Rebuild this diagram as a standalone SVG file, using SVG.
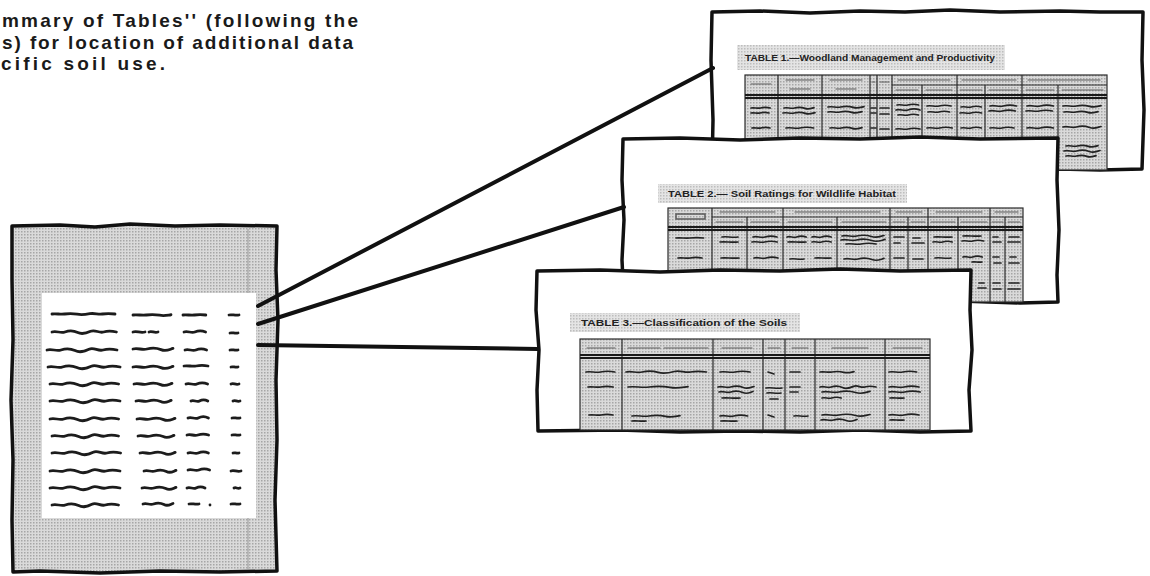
<svg xmlns="http://www.w3.org/2000/svg" xmlns:xlink="http://www.w3.org/1999/xlink" width="1150" height="576" viewBox="0 0 1150 576">
  <style>
    .page { fill: #ffffff; stroke: #111; stroke-width: 3.5; stroke-linejoin: round; }
    .shade { fill: url(#halftone); }
    .band { fill: url(#halftoneLight); }
    .grid { fill: none; stroke: #2a2a2a; stroke-width: 1.2; }
    .rule { fill: none; stroke: #1a1a1a; stroke-width: 2; }
    .lp { stroke: #1c1c1c; stroke-width: 2.8; stroke-linecap: round; }
    .ts { stroke: #222; stroke-width: 1.7; stroke-linecap: round; }
    .th { stroke: #5a5a5a; stroke-width: 1.1; stroke-linecap: round; }
    .title { font-family: "Liberation Sans", Arial, sans-serif; font-weight: bold; font-size: 9.5px; fill: #222; }
    .caption { font-family: "Liberation Sans", Arial, sans-serif; font-weight: bold; font-size: 19px; fill: #1a1a1a; }
    .conn { stroke: #111; stroke-width: 4; stroke-linecap: round; fill: none; }
  </style>
  <defs>
    <pattern id="halftone" width="3" height="3" patternUnits="userSpaceOnUse">
      <rect width="3" height="3" fill="#dadada"/>
      <rect width="1.5" height="1.5" fill="#a6a6a6"/>
    </pattern>
    <pattern id="halftoneLight" width="3" height="3" patternUnits="userSpaceOnUse">
      <rect width="3" height="3" fill="#e4e4e4"/>
      <rect width="1.5" height="1.5" fill="#bdbdbd"/>
    </pattern>
    <!-- flat hand-drawn strokes of a few base lengths, standing in for written entries -->
    <path id="s10" d="M0,0 C3,-0.8 6,0.8 10,0" fill="none" vector-effect="non-scaling-stroke"/>
    <path id="s24" d="M0,0 C4,-1 8,1 12,0 S20,-1 24,0" fill="none" vector-effect="non-scaling-stroke"/>
    <path id="s40" d="M0,0 C5,-1 9,1 14,0 S23,-1 28,0.4 S36,0.4 40,-0.4" fill="none" vector-effect="non-scaling-stroke"/>
    <path id="s70" d="M0,0 C5,-1.2 9,1.2 14,0 S23,-1.2 28,0.4 S37,1 42,-0.5 S51,1 56,0 S65,-0.8 70,0" fill="none" vector-effect="non-scaling-stroke"/>
  </defs>

  <rect width="1150" height="576" fill="#ffffff"/>

  <!-- caption text, cut at the left edge -->
  <g id="caption" class="caption">
    <text x="2" y="27" textLength="356" lengthAdjust="spacing">mmary of Tables'' (following the</text>
    <text x="2" y="49" textLength="351" lengthAdjust="spacing">s) for location of additional data</text>
    <text x="1" y="70" textLength="164" lengthAdjust="spacing">cific soil use.</text>
  </g>

  <!-- soil-use page with its rows of entries -->
  <g id="summary-page">
    <path class="shade" d="M12,226 L60,225 L95,227 L130,224 L175,226 L220,225 L277,226 L276,270 L278,320 L276,380 L277,440 L275,500 L277,571 L220,572 L160,571 L100,573 L40,571 L13,572 L12,520 L13,460 L11,400 L13,340 L12,280 Z"/>
    <rect x="42" y="293" width="214" height="225" fill="#ffffff"/>
    <line x1="248" y1="229" x2="248" y2="293" stroke="#9a9a9a" stroke-width="1"/>
    <line x1="248" y1="518" x2="248" y2="569" stroke="#9a9a9a" stroke-width="1"/>
    <path d="M12,226 L60,225 L95,227 L130,224 L175,226 L220,225 L277,226 L276,270 L278,320 L276,380 L277,440 L275,500 L277,571 L220,572 L160,571 L100,573 L40,571 L13,572 L12,520 L13,460 L11,400 L13,340 L12,280 Z" fill="none" stroke="#111" stroke-width="3.5" stroke-linejoin="round"/>
    <g class="lp">
      <use xlink:href="#s70" transform="translate(52,314) scale(0.9,0.6)"/>
      <use xlink:href="#s40" transform="translate(133,315) scale(0.95,0.6)"/>
      <use xlink:href="#s24" transform="translate(183,315) scale(0.95,0.6)"/>
      <use xlink:href="#s10" transform="translate(229,315)"/>

      <use xlink:href="#s70" transform="translate(52,332) scale(0.92,1.4)"/>
      <use xlink:href="#s10" transform="translate(133,332) scale(1.2,1.4)"/>
      <use xlink:href="#s10" transform="translate(149,332) scale(0.9,1.4)"/>
      <use xlink:href="#s24" transform="translate(184,332) scale(0.9,1.4)"/>
      <use xlink:href="#s10" transform="translate(230,333) scale(0.8,1)"/>

      <use xlink:href="#s70" transform="translate(47,350) scale(1.0,1.5)"/>
      <use xlink:href="#s40" transform="translate(133,349) scale(1.0,1.5)"/>
      <use xlink:href="#s24" transform="translate(185,350) scale(0.9,1.4)"/>
      <use xlink:href="#s10" transform="translate(230,350) scale(0.8,1)"/>

      <use xlink:href="#s70" transform="translate(48,367) scale(1.03,1.5)"/>
      <use xlink:href="#s40" transform="translate(133,367) scale(1.0,1.5)"/>
      <use xlink:href="#s24" transform="translate(184,366) scale(1.0,0.8)"/>
      <use xlink:href="#s10" transform="translate(231,367) scale(0.7,1)"/>

      <use xlink:href="#s70" transform="translate(50,384) scale(0.98,1.5)"/>
      <use xlink:href="#s40" transform="translate(134,384) scale(0.95,1.5)"/>
      <use xlink:href="#s24" transform="translate(186,384) scale(0.9,1.6)"/>
      <use xlink:href="#s10" transform="translate(231,384) scale(0.8,1.4)"/>

      <use xlink:href="#s70" transform="translate(50,401) scale(1.0,1.5)"/>
      <use xlink:href="#s40" transform="translate(136,401) scale(0.88,1.5)"/>
      <use xlink:href="#s24" transform="translate(191,401) scale(0.7,1.6)"/>
      <use xlink:href="#s10" transform="translate(233,401) scale(0.7,1.4)"/>

      <use xlink:href="#s70" transform="translate(50,419) scale(0.98,1.5)"/>
      <use xlink:href="#s40" transform="translate(137,419) scale(0.95,1.5)"/>
      <use xlink:href="#s24" transform="translate(188,418) scale(0.85,1.8)"/>
      <use xlink:href="#s10" transform="translate(232,418) scale(0.8,1)"/>

      <use xlink:href="#s70" transform="translate(52,436) scale(0.95,1.5)"/>
      <use xlink:href="#s40" transform="translate(138,436) scale(0.9,1.5)"/>
      <use xlink:href="#s24" transform="translate(187,435) scale(0.9,1.2)"/>
      <use xlink:href="#s10" transform="translate(232,435) scale(0.8,1)"/>

      <use xlink:href="#s70" transform="translate(52,453) scale(0.98,1.5)"/>
      <use xlink:href="#s40" transform="translate(140,453) scale(0.88,1.5)"/>
      <use xlink:href="#s24" transform="translate(188,453) scale(0.85,1.5)"/>
      <use xlink:href="#s10" transform="translate(233,453) scale(0.6,1)"/>

      <use xlink:href="#s70" transform="translate(50,471) scale(1.0,1.5)"/>
      <use xlink:href="#s40" transform="translate(144,471) scale(0.8,1.4)"/>
      <use xlink:href="#s24" transform="translate(188,470) scale(0.9,1.4)"/>
      <use xlink:href="#s10" transform="translate(231,471) scale(1.0,1.6)"/>

      <use xlink:href="#s70" transform="translate(50,488) scale(1.0,1.5)"/>
      <use xlink:href="#s40" transform="translate(142,488) scale(0.85,1.5)"/>
      <use xlink:href="#s24" transform="translate(187,488) scale(0.75,1.5)"/>
      <use xlink:href="#s10" transform="translate(234,488) scale(0.6,1.4)"/>

      <use xlink:href="#s70" transform="translate(52,505) scale(0.95,1.5)"/>
      <use xlink:href="#s40" transform="translate(143,504) scale(0.75,1.4)"/>
      <use xlink:href="#s10" transform="translate(189,504) scale(1.0,1)"/>
      <circle cx="210" cy="505" r="1.4" fill="#1c1c1c" stroke="none"/>
      <use xlink:href="#s10" transform="translate(231,504) scale(0.9,1)"/>
    </g>
  </g>

  <!-- page with table 1 (back sheet) -->
  <g id="table-1-page">
    <path class="page" d="M712,12 L760,11 L810,13 L860,11 L905,12 L950,10 L1000,12 L1060,11 L1100,12 L1143,12 L1142,60 L1144,110 L1142,169 L1100,170 L1060,169 L1000,170 L900,169 L800,170 L712,169 L713,120 L711,60 Z"/>
    <rect class="band" x="737" y="45" width="268" height="25"/>
    <text class="title" x="745" y="61" textLength="250" lengthAdjust="spacingAndGlyphs">TABLE 1.—Woodland Management and Productivity</text>
    <rect class="shade" x="745" y="75" width="362" height="95"/>
    <g class="grid">
      <rect x="745" y="75" width="362" height="95"/>
      <line x1="892" y1="85" x2="1107" y2="85"/>
      <line x1="778" y1="75" x2="778" y2="170"/>
      <line x1="822" y1="75" x2="822" y2="170"/>
      <line x1="870" y1="75" x2="870" y2="170"/>
      <line x1="877" y1="75" x2="877" y2="170"/>
      <line x1="892" y1="75" x2="892" y2="170"/>
      <line x1="922" y1="85" x2="922" y2="170"/>
      <line x1="957" y1="75" x2="957" y2="170"/>
      <line x1="985" y1="85" x2="985" y2="170"/>
      <line x1="1022" y1="75" x2="1022" y2="170"/>
      <line x1="1058" y1="85" x2="1058" y2="170"/>
    </g>
    <line class="rule" x1="745" y1="95" x2="1107" y2="95"/>
    <line class="rule" x1="745" y1="98" x2="1107" y2="98" stroke-width="1"/>
    <g class="th">
      <line x1="751" y1="84" x2="771" y2="84"/>
      <line x1="786" y1="80" x2="814" y2="80"/><line x1="790" y1="89" x2="810" y2="89"/>
      <line x1="830" y1="80" x2="862" y2="80"/><line x1="836" y1="89" x2="856" y2="89"/>
      <line x1="872" y1="82" x2="875" y2="82"/><line x1="880" y1="82" x2="889" y2="82"/>
      <line x1="898" y1="80" x2="950" y2="80"/><line x1="896" y1="90" x2="918" y2="90"/><line x1="926" y1="90" x2="952" y2="90"/>
      <line x1="962" y1="80" x2="1016" y2="80"/><line x1="960" y1="90" x2="982" y2="90"/><line x1="989" y1="90" x2="1018" y2="90"/>
      <line x1="1028" y1="80" x2="1100" y2="80"/><line x1="1026" y1="90" x2="1054" y2="90"/><line x1="1062" y1="90" x2="1103" y2="90"/>
    </g>
    <g class="ts">
      <use xlink:href="#s24" transform="translate(751,108) scale(0.8,0.8)"/>
      <use xlink:href="#s24" transform="translate(751,113) scale(0.75,0.8)"/>
      <use xlink:href="#s24" transform="translate(752,128) scale(0.75,0.8)"/>
      <use xlink:href="#s40" transform="translate(784,108) scale(0.75,1)"/>
      <use xlink:href="#s40" transform="translate(783,113) scale(0.8,1)"/>
      <use xlink:href="#s24" transform="translate(786,128) scale(1.15,1)"/>
      <use xlink:href="#s40" transform="translate(828,107) scale(0.9,1)"/>
      <use xlink:href="#s40" transform="translate(828,112) scale(0.85,1)"/>
      <use xlink:href="#s40" transform="translate(830,128) scale(0.8,1)"/>
      <line x1="871" y1="108" x2="876" y2="108"/><line x1="871" y1="113" x2="876" y2="113"/><line x1="871" y1="128" x2="876" y2="128"/>
      <line x1="880" y1="108" x2="889" y2="108"/><line x1="880" y1="114" x2="889" y2="114"/><line x1="880" y1="129" x2="889" y2="129"/>
      <use xlink:href="#s24" transform="translate(897,105) scale(0.9,1)"/>
      <use xlink:href="#s24" transform="translate(896,110) scale(1.0,1.4)"/>
      <use xlink:href="#s24" transform="translate(898,115) scale(0.85,1)"/>
      <use xlink:href="#s24" transform="translate(896,129) scale(1.0,1)"/>
      <use xlink:href="#s24" transform="translate(927,106) scale(1.0,1)"/>
      <use xlink:href="#s24" transform="translate(928,112) scale(0.9,1)"/>
      <use xlink:href="#s24" transform="translate(927,128) scale(1.05,1)"/>
      <use xlink:href="#s24" transform="translate(961,107) scale(0.85,1)"/>
      <use xlink:href="#s24" transform="translate(960,113) scale(0.9,1)"/>
      <use xlink:href="#s24" transform="translate(961,128) scale(0.85,1)"/>
      <use xlink:href="#s24" transform="translate(990,106) scale(1.1,1.2)"/>
      <use xlink:href="#s24" transform="translate(989,111) scale(1.1,1.2)"/>
      <use xlink:href="#s24" transform="translate(990,128) scale(1.0,1)"/>
      <use xlink:href="#s24" transform="translate(1027,106) scale(1.1,1.2)"/>
      <use xlink:href="#s24" transform="translate(1026,111) scale(1.1,1)"/>
      <use xlink:href="#s24" transform="translate(1027,128) scale(1.1,1.2)"/>
      <use xlink:href="#s40" transform="translate(1063,106) scale(0.95,1)"/>
      <use xlink:href="#s40" transform="translate(1064,112) scale(0.85,1)"/>
      <use xlink:href="#s40" transform="translate(1063,127) scale(0.95,1.2)"/>
      <use xlink:href="#s40" transform="translate(1066,146) scale(0.8,1)"/>
      <use xlink:href="#s40" transform="translate(1064,151) scale(0.9,1.2)"/>
      <use xlink:href="#s40" transform="translate(1066,156) scale(0.75,1)"/>
    </g>
  </g>

  <!-- page with table 2 (middle sheet) -->
  <g id="table-2-page">
    <path class="page" d="M623,139 L680,138 L740,140 L800,138 L860,139 L920,137 L980,139 L1058,138 L1057,180 L1059,230 L1057,275 L1058,302 L1020,303 L960,301 L900,302 L840,301 L760,302 L700,301 L624,302 L622,260 L624,220 L622,180 Z"/>
    <rect class="band" x="658" y="184" width="249" height="19"/>
    <text class="title" x="668" y="197" textLength="228" lengthAdjust="spacingAndGlyphs">TABLE 2.— Soil Ratings for Wildlife Habitat</text>
    <rect class="shade" x="668" y="208" width="355" height="94"/>
    <g class="grid">
      <rect x="668" y="208" width="355" height="94"/>
      <line x1="712" y1="217" x2="1023" y2="217"/>
      <line x1="712" y1="208" x2="712" y2="302"/>
      <line x1="747" y1="217" x2="747" y2="302"/>
      <line x1="783" y1="208" x2="783" y2="302"/>
      <line x1="837" y1="217" x2="837" y2="302"/>
      <line x1="890" y1="208" x2="890" y2="302"/>
      <line x1="908" y1="217" x2="908" y2="302"/>
      <line x1="928" y1="208" x2="928" y2="302"/>
      <line x1="958" y1="217" x2="958" y2="302"/>
      <line x1="990" y1="208" x2="990" y2="302"/>
      <line x1="1005" y1="217" x2="1005" y2="302"/>
    </g>
    <line class="rule" x1="668" y1="227" x2="1023" y2="227"/>
    <line class="rule" x1="668" y1="230" x2="1023" y2="230" stroke-width="1"/>
    <g class="th">
      <rect x="676" y="214" width="29" height="5" fill="none" stroke-width="1.5"/>
      <line x1="720" y1="212" x2="775" y2="212"/><line x1="716" y1="222" x2="743" y2="222"/><line x1="751" y1="222" x2="779" y2="222"/>
      <line x1="795" y1="212" x2="880" y2="212"/><line x1="788" y1="222" x2="832" y2="222"/><line x1="842" y1="222" x2="886" y2="222"/>
      <line x1="896" y1="212" x2="922" y2="212"/><line x1="893" y1="222" x2="905" y2="222"/><line x1="911" y1="222" x2="925" y2="222"/>
      <line x1="936" y1="212" x2="982" y2="212"/><line x1="931" y1="222" x2="955" y2="222"/><line x1="961" y1="222" x2="987" y2="222"/>
      <line x1="995" y1="212" x2="1018" y2="212"/><line x1="992" y1="222" x2="1003" y2="222"/><line x1="1008" y1="222" x2="1020" y2="222"/>
    </g>
    <g class="ts">
      <use xlink:href="#s24" transform="translate(676,238) scale(1.15,0.6)"/>
      <use xlink:href="#s24" transform="translate(678,258) scale(1.0,0.8)"/>
      <use xlink:href="#s10" transform="translate(722,237) scale(1.6,1.2)"/>
      <use xlink:href="#s10" transform="translate(720,242) scale(1.8,1)"/>
      <use xlink:href="#s10" transform="translate(721,258) scale(1.8,1)"/>
      <use xlink:href="#s24" transform="translate(753,237) scale(1.0,1.2)"/>
      <use xlink:href="#s24" transform="translate(752,242) scale(1.05,1)"/>
      <use xlink:href="#s24" transform="translate(754,258) scale(1.0,1.2)"/>
      <use xlink:href="#s24" transform="translate(787,237) scale(0.8,1.2)"/>
      <use xlink:href="#s10" transform="translate(788,242) scale(1.8,1)"/>
      <use xlink:href="#s24" transform="translate(812,237) scale(0.8,1.2)"/>
      <use xlink:href="#s24" transform="translate(812,242) scale(0.8,1)"/>
      <use xlink:href="#s10" transform="translate(790,259) scale(1.4,1.2)"/>
      <use xlink:href="#s10" transform="translate(815,258) scale(1.6,1)"/>
      <use xlink:href="#s40" transform="translate(842,236) scale(1.05,1.2)"/>
      <use xlink:href="#s40" transform="translate(841,240) scale(1.1,1.4)"/>
      <use xlink:href="#s24" transform="translate(846,244) scale(1.25,1)"/>
      <use xlink:href="#s40" transform="translate(844,259) scale(1.0,1.4)"/>
      <line x1="894" y1="237" x2="904" y2="237"/><line x1="894" y1="243" x2="900" y2="243"/><line x1="894" y1="258" x2="904" y2="258"/>
      <line x1="913" y1="238" x2="920" y2="238"/><line x1="912" y1="243" x2="924" y2="243"/><line x1="913" y1="259" x2="923" y2="259"/>
      <use xlink:href="#s10" transform="translate(934,237) scale(1.8,1)"/>
      <use xlink:href="#s24" transform="translate(933,242) scale(0.8,1)"/>
      <use xlink:href="#s10" transform="translate(935,258) scale(1.6,1.2)"/>
      <use xlink:href="#s10" transform="translate(963,236) scale(1.8,1)"/>
      <use xlink:href="#s24" transform="translate(962,241) scale(0.9,1)"/>
      <use xlink:href="#s24" transform="translate(963,257) scale(0.8,1.2)"/>
      <use xlink:href="#s10" transform="translate(972,262) scale(1.0,1)"/>
      <line x1="993" y1="237" x2="998" y2="237"/><line x1="993" y1="242" x2="1001" y2="242"/><line x1="993" y1="257" x2="999" y2="257"/><line x1="994" y1="263" x2="1001" y2="263"/>
      <line x1="1009" y1="237" x2="1019" y2="237"/><line x1="1008" y1="242" x2="1020" y2="242"/><line x1="1010" y1="257" x2="1016" y2="257"/><line x1="1009" y1="263" x2="1019" y2="263"/>
      <line x1="979" y1="283" x2="984" y2="283"/><line x1="978" y1="288" x2="986" y2="288"/>
      <line x1="993" y1="283" x2="1000" y2="283"/><line x1="993" y1="289" x2="1001" y2="289"/>
      <line x1="1009" y1="283" x2="1019" y2="283"/><line x1="1008" y1="289" x2="1020" y2="289"/>
    </g>
  </g>

  <!-- page with table 3 (front sheet) -->
  <g id="table-3-page">
    <path class="page" d="M537,271 L600,270 L660,272 L720,270 L780,271 L840,269 L900,271 L971,270 L970,310 L972,350 L969,390 L971,431 L920,432 L860,430 L800,432 L740,431 L680,432 L620,430 L538,431 L537,390 L539,350 L536,310 Z"/>
    <rect class="band" x="570" y="313" width="230" height="19"/>
    <text class="title" x="581" y="326" textLength="206" lengthAdjust="spacingAndGlyphs">TABLE 3.—Classification of the Soils</text>
    <rect class="shade" x="580" y="339" width="350" height="91"/>
    <g class="grid">
      <rect x="580" y="339" width="350" height="91"/>
      <line x1="622" y1="339" x2="622" y2="430"/>
      <line x1="713" y1="339" x2="713" y2="430"/>
      <line x1="763" y1="339" x2="763" y2="430"/>
      <line x1="785" y1="339" x2="785" y2="430"/>
      <line x1="815" y1="339" x2="815" y2="430"/>
      <line x1="885" y1="339" x2="885" y2="430"/>
    </g>
    <line class="rule" x1="580" y1="355" x2="930" y2="355"/>
    <line class="rule" x1="580" y1="358" x2="930" y2="358" stroke-width="1"/>
    <g class="th">
      <line x1="587" y1="348" x2="615" y2="348"/>
      <line x1="628" y1="348" x2="660" y2="348"/><line x1="664" y1="348" x2="708" y2="348"/>
      <line x1="722" y1="348" x2="752" y2="348"/>
      <line x1="768" y1="348" x2="780" y2="348"/>
      <line x1="792" y1="348" x2="808" y2="348"/>
      <line x1="832" y1="348" x2="868" y2="348"/>
      <line x1="893" y1="348" x2="922" y2="348"/>
    </g>
    <g class="ts">
      <use xlink:href="#s24" transform="translate(586,372) scale(1.2,1)"/>
      <use xlink:href="#s24" transform="translate(588,387) scale(1.05,0.8)"/>
      <use xlink:href="#s24" transform="translate(589,415) scale(1.0,0.8)"/>
      <use xlink:href="#s70" transform="translate(626,372) scale(1.15,1)"/>
      <use xlink:href="#s40" transform="translate(628,387) scale(1.5,1)"/>
      <use xlink:href="#s40" transform="translate(632,416) scale(1.2,1)"/>
      <use xlink:href="#s10" transform="translate(632,421) scale(1.4,1)"/>
      <use xlink:href="#s24" transform="translate(720,372) scale(1.25,1)"/>
      <use xlink:href="#s40" transform="translate(718,387) scale(0.9,1.2)"/>
      <use xlink:href="#s40" transform="translate(719,392) scale(0.85,1.4)"/>
      <use xlink:href="#s10" transform="translate(722,398) scale(1.8,1)"/>
      <use xlink:href="#s24" transform="translate(720,416) scale(1.15,1.2)"/>
      <use xlink:href="#s10" transform="translate(721,421) scale(1.6,1)"/>
      <line x1="768" y1="372" x2="774" y2="374"/>
      <use xlink:href="#s10" transform="translate(766,388) scale(1.6,1.2)"/>
      <use xlink:href="#s10" transform="translate(767,393) scale(1.4,1.2)"/>
      <line x1="770" y1="399" x2="778" y2="399"/>
      <line x1="768" y1="415" x2="774" y2="417"/>
      <line x1="790" y1="372" x2="800" y2="372"/>
      <line x1="790" y1="387" x2="800" y2="387"/><line x1="790" y1="392" x2="798" y2="392"/>
      <use xlink:href="#s10" transform="translate(794,416) scale(1.4,1.2)"/>
      <use xlink:href="#s40" transform="translate(820,372) scale(0.85,0.8)"/>
      <use xlink:href="#s70" transform="translate(820,387) scale(0.8,1.2)"/>
      <use xlink:href="#s40" transform="translate(822,392) scale(1.2,1.4)"/>
      <use xlink:href="#s24" transform="translate(822,398) scale(0.8,1)"/>
      <use xlink:href="#s40" transform="translate(822,415) scale(1.2,1.2)"/>
      <use xlink:href="#s40" transform="translate(821,420) scale(0.9,1.4)"/>
      <use xlink:href="#s24" transform="translate(889,372) scale(1.15,1)"/>
      <use xlink:href="#s24" transform="translate(889,387) scale(1.25,1.2)"/>
      <use xlink:href="#s24" transform="translate(889,392) scale(1.3,1.2)"/>
      <use xlink:href="#s10" transform="translate(890,398) scale(1.4,1)"/>
      <use xlink:href="#s24" transform="translate(889,415) scale(1.25,1.2)"/>
      <use xlink:href="#s10" transform="translate(890,420) scale(1.4,1)"/>
    </g>
  </g>

  <!-- leader lines from the page rows to the three tables -->
  <g id="connectors" class="conn">
    <line x1="258" y1="306" x2="713" y2="68"/>
    <line x1="258" y1="324" x2="624" y2="207"/>
    <line x1="258" y1="345" x2="538" y2="349"/>
  </g>
</svg>
